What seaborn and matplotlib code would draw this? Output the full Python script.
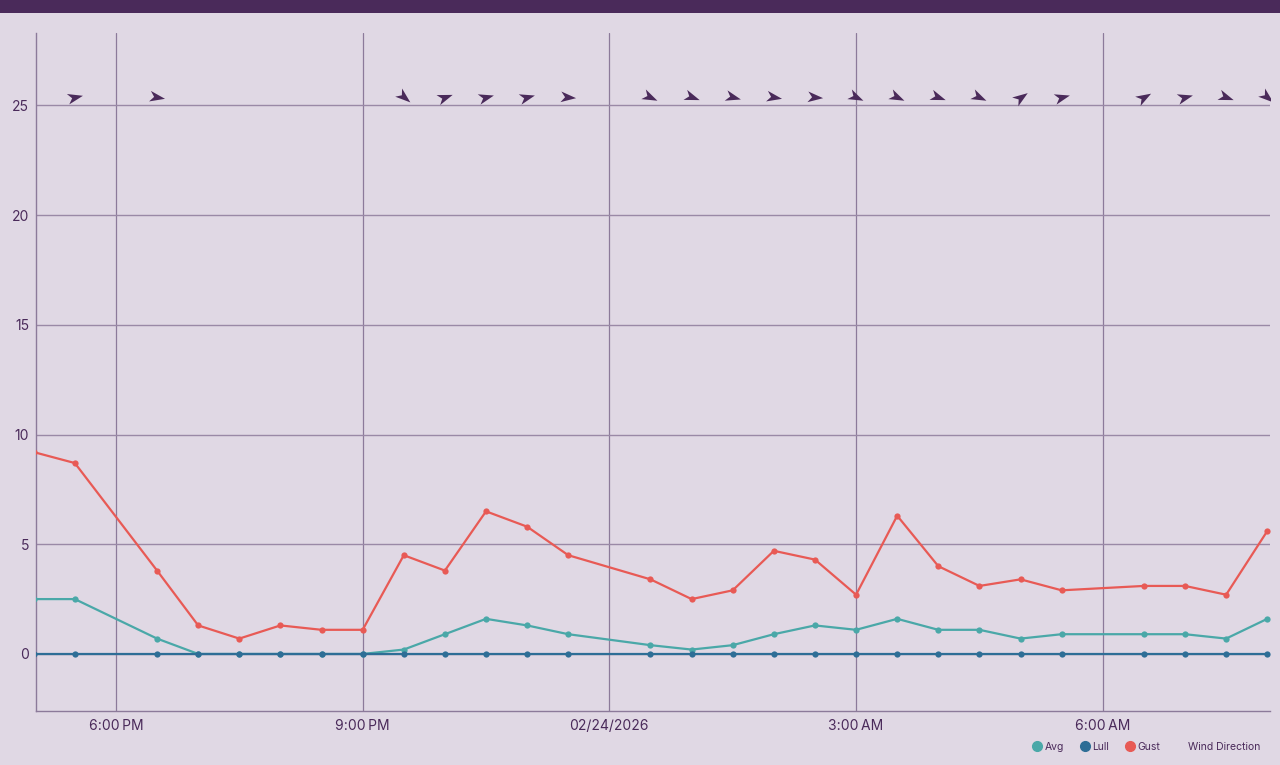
import numpy as np
import pandas as pd
import matplotlib
matplotlib.use("Agg")
import matplotlib.pyplot as plt
import matplotlib.dates as mdates
from matplotlib.markers import MarkerStyle
from matplotlib.path import Path
from matplotlib.transforms import Affine2D
from matplotlib.lines import Line2D
import seaborn as sns

# ---- data ----
times = ["2026-02-23 17:00", "2026-02-23 17:30", "2026-02-23 18:30", "2026-02-23 19:00",
         "2026-02-23 19:30", "2026-02-23 20:00", "2026-02-23 20:30", "2026-02-23 21:00",
         "2026-02-23 21:30", "2026-02-23 22:00", "2026-02-23 22:30", "2026-02-23 23:00",
         "2026-02-23 23:30", "2026-02-24 00:30", "2026-02-24 01:00", "2026-02-24 01:30",
         "2026-02-24 02:00", "2026-02-24 02:30", "2026-02-24 03:00", "2026-02-24 03:30",
         "2026-02-24 04:00", "2026-02-24 04:30", "2026-02-24 05:00", "2026-02-24 05:30",
         "2026-02-24 06:30", "2026-02-24 07:00", "2026-02-24 07:30", "2026-02-24 08:00"]
avg = [2.5, 2.5, 0.7, 0.0, 0.0, 0.0, 0.0, 0.0, 0.2, 0.9, 1.6, 1.3, 0.9, 0.4, 0.2, 0.4,
       0.9, 1.3, 1.1, 1.6, 1.1, 1.1, 0.7, 0.9, 0.9, 0.9, 0.7, 1.6]
lull = [0.0] * 28
gust = [9.2, 8.7, 3.8, 1.3, 0.7, 1.3, 1.1, 1.1, 4.5, 3.8, 6.5, 5.8, 4.5, 3.4, 2.5, 2.9,
        4.7, 4.3, 2.7, 6.3, 4.0, 3.1, 3.4, 2.9, 3.1, 3.1, 2.7, 5.6]

# wind direction (degrees, "from"), omitted when calm
dir_times = ["2026-02-23 17:30", "2026-02-23 18:30", "2026-02-23 21:30", "2026-02-23 22:00",
             "2026-02-23 22:30", "2026-02-23 23:00", "2026-02-23 23:30", "2026-02-24 00:30",
             "2026-02-24 01:00", "2026-02-24 01:30", "2026-02-24 02:00", "2026-02-24 02:30",
             "2026-02-24 03:00", "2026-02-24 03:30", "2026-02-24 04:00", "2026-02-24 04:30",
             "2026-02-24 05:00", "2026-02-24 05:30", "2026-02-24 06:30", "2026-02-24 07:00",
             "2026-02-24 07:30", "2026-02-24 08:00"]
wind_dir = [257, 280, 310, 250, 255, 255, 275, 295, 290, 285, 280, 275,
            295, 295, 290, 295, 235, 255, 240, 255, 290, 310]

y_ticks = [0, 5, 10, 15, 20, 25]

# ---- style ----
BG = "#E0D8E4"
TXT = "#4A2A5A"
GRID_H = "#9A89A6"
GRID_V = "#8C7A9A"
C_AVG = "#4AA8A8"
C_LULL = "#2E6E96"
C_GUST = "#E85A55"

sns.set_theme(style="white")
plt.rcParams['font.family'] = ['Inter', 'DejaVu Sans']

fig = plt.figure(figsize=(12.8, 7.65), dpi=100, facecolor=BG)
ax = fig.add_axes([36/1280, 1-711/765, (1270-36)/1280, (711-33)/765])
ax.set_facecolor(BG)

# top bar
fig.patches.append(plt.Rectangle((0, 1-13/765), 1, 13/765, transform=fig.transFigure,
                                 facecolor="#4A2A5A", edgecolor="none", zorder=10))

df = pd.DataFrame({"time": pd.to_datetime(times), "Avg": avg, "Lull": lull, "Gust": gust})
long = df.melt(id_vars="time", var_name="series", value_name="speed")

sns.lineplot(data=long, x="time", y="speed", hue="series",
             hue_order=["Gust", "Avg", "Lull"],
             palette={"Avg": C_AVG, "Lull": C_LULL, "Gust": C_GUST},
             marker="o", markersize=4.5, markeredgewidth=0, linewidth=1.6,
             ax=ax, legend=False, zorder=3)

# wind direction arrows
arrow_path = Path([(1.0, 0.0), (-1.0, 0.7), (-0.45, 0.0), (-1.0, -0.7), (1.0, 0.0)],
                  [Path.MOVETO, Path.LINETO, Path.LINETO, Path.LINETO, Path.CLOSEPOLY])
dts = pd.to_datetime(dir_times)
for t, d in zip(dts, wind_dir):
    screen_angle = 90 - ((d + 180) % 360)
    m = MarkerStyle(arrow_path, transform=Affine2D().rotate_deg(screen_angle))
    ax.plot([t], [25.4], marker=m, markersize=11, color="#4A2A5A",
            markeredgewidth=0, linestyle="none", zorder=4)

# axes
ax.set_xlim(pd.Timestamp("2026-02-23 17:01:40"), pd.Timestamp("2026-02-24 08:02:00"))
ax.set_ylim(-2.6, 28.3)
ax.set_yticks(y_ticks)
ax.set_yticklabels([str(v) for v in y_ticks])

ax.xaxis.set_major_locator(mdates.HourLocator(byhour=[0, 3, 6, 9, 12, 15, 18, 21]))

def fmt(x, pos=None):
    dt = mdates.num2date(x)
    if dt.hour == 0:
        return dt.strftime("%m/%d/%Y")
    h = dt.hour % 12
    h = 12 if h == 0 else h
    return f"{h}:{dt.minute:02d}\u2009{'AM' if dt.hour < 12 else 'PM'}"

ax.xaxis.set_major_formatter(plt.FuncFormatter(fmt))
ax.set_xlabel("")
ax.set_ylabel("")

ax.grid(True, axis="y", color=GRID_H, linewidth=1.0, zorder=0)
ax.grid(True, axis="x", color=GRID_V, linewidth=0.9, zorder=0)
for s in ["top", "right"]:
    ax.spines[s].set_visible(False)
for s in ["left", "bottom"]:
    ax.spines[s].set_color(GRID_V)
    ax.spines[s].set_linewidth(1.0)
ax.tick_params(axis="both", length=0, labelcolor=TXT, labelsize=10)
ax.tick_params(axis="x", pad=6)
ax.tick_params(axis="y", pad=5)

# legend
handles = [
    Line2D([], [], marker="o", color=C_AVG, linestyle="none", markersize=7),
    Line2D([], [], marker="o", color=C_LULL, linestyle="none", markersize=7),
    Line2D([], [], marker="o", color=C_GUST, linestyle="none", markersize=7),
    Line2D([], [], marker="none", linestyle="none"),
]
leg = fig.legend(handles, ["Avg", "Lull", "Gust", "Wind Direction"], ncol=4,
                 loc="center right", bbox_to_anchor=(0.992, 1-747/765),
                 frameon=False, fontsize=7.5, handlelength=0.8, handletextpad=0.3,
                 columnspacing=1.6, labelcolor=TXT)

fig.savefig("out.png", dpi=100, facecolor=BG)
